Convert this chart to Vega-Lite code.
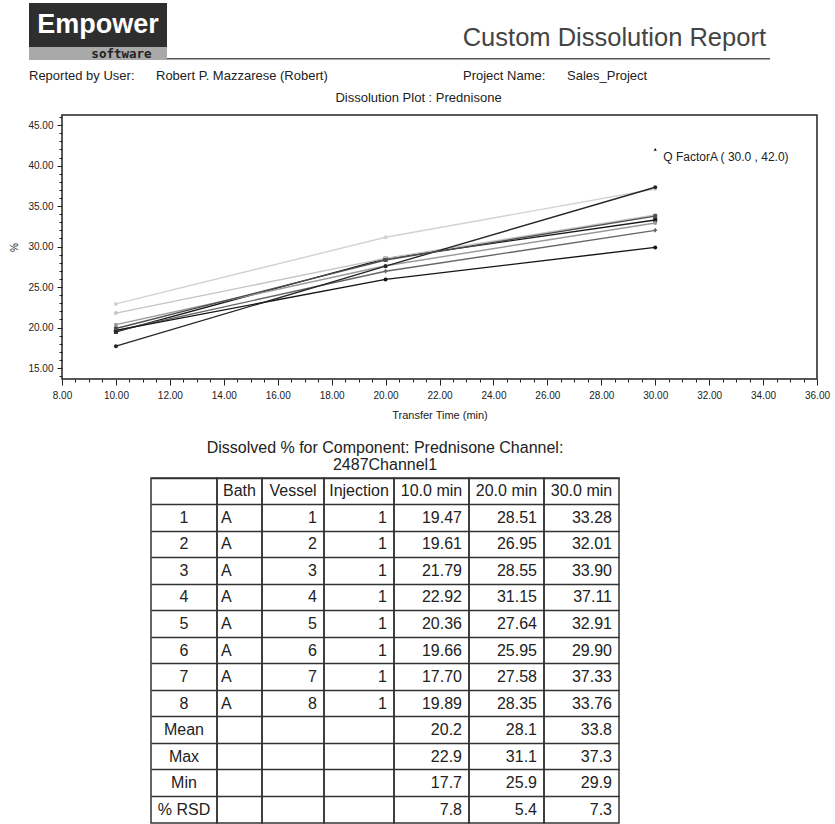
{
  "$schema": "https://vega.github.io/schema/vega-lite/v6.json",
  "padding": 0,
  "background": "white",
  "spacing": 0,
  "bounds": "flush",
  "config": {
    "font": "Liberation Sans",
    "view": {"stroke": null},
    "text": {"color": "#222"},
    "concat": {"spacing": 0}
  },
  "datasets": {
    "dissolution": [
      {"vessel": "1", "time": 10, "pct": 19.47}, {"vessel": "1", "time": 20, "pct": 28.51}, {"vessel": "1", "time": 30, "pct": 33.28},
      {"vessel": "2", "time": 10, "pct": 19.61}, {"vessel": "2", "time": 20, "pct": 26.95}, {"vessel": "2", "time": 30, "pct": 32.01},
      {"vessel": "3", "time": 10, "pct": 21.79}, {"vessel": "3", "time": 20, "pct": 28.55}, {"vessel": "3", "time": 30, "pct": 33.90},
      {"vessel": "4", "time": 10, "pct": 22.92}, {"vessel": "4", "time": 20, "pct": 31.15}, {"vessel": "4", "time": 30, "pct": 37.11},
      {"vessel": "5", "time": 10, "pct": 20.36}, {"vessel": "5", "time": 20, "pct": 27.64}, {"vessel": "5", "time": 30, "pct": 32.91},
      {"vessel": "6", "time": 10, "pct": 19.66}, {"vessel": "6", "time": 20, "pct": 25.95}, {"vessel": "6", "time": 30, "pct": 29.90},
      {"vessel": "7", "time": 10, "pct": 17.70}, {"vessel": "7", "time": 20, "pct": 27.58}, {"vessel": "7", "time": 30, "pct": 37.33},
      {"vessel": "8", "time": 10, "pct": 19.89}, {"vessel": "8", "time": 20, "pct": 28.35}, {"vessel": "8", "time": 30, "pct": 33.76}
    ],
    "qfactor": [
      {"time": 30, "pct": 42, "label": "Q FactorA ( 30.0 , 42.0)"}
    ],
    "table": [
      {"row": "h", "Bath": "Bath", "Vessel": "Vessel", "Injection": "Injection", "t10": "10.0 min", "t20": "20.0 min", "t30": "30.0 min"},
      {"row": "1", "Bath": "A", "Vessel": "1", "Injection": "1", "t10": "19.47", "t20": "28.51", "t30": "33.28"},
      {"row": "2", "Bath": "A", "Vessel": "2", "Injection": "1", "t10": "19.61", "t20": "26.95", "t30": "32.01"},
      {"row": "3", "Bath": "A", "Vessel": "3", "Injection": "1", "t10": "21.79", "t20": "28.55", "t30": "33.90"},
      {"row": "4", "Bath": "A", "Vessel": "4", "Injection": "1", "t10": "22.92", "t20": "31.15", "t30": "37.11"},
      {"row": "5", "Bath": "A", "Vessel": "5", "Injection": "1", "t10": "20.36", "t20": "27.64", "t30": "32.91"},
      {"row": "6", "Bath": "A", "Vessel": "6", "Injection": "1", "t10": "19.66", "t20": "25.95", "t30": "29.90"},
      {"row": "7", "Bath": "A", "Vessel": "7", "Injection": "1", "t10": "17.70", "t20": "27.58", "t30": "37.33"},
      {"row": "8", "Bath": "A", "Vessel": "8", "Injection": "1", "t10": "19.89", "t20": "28.35", "t30": "33.76"},
      {"row": "Mean", "Bath": "", "Vessel": "", "Injection": "", "t10": "20.2", "t20": "28.1", "t30": "33.8"},
      {"row": "Max", "Bath": "", "Vessel": "", "Injection": "", "t10": "22.9", "t20": "31.1", "t30": "37.3"},
      {"row": "Min", "Bath": "", "Vessel": "", "Injection": "", "t10": "17.7", "t20": "25.9", "t30": "29.9"},
      {"row": "% RSD", "Bath": "", "Vessel": "", "Injection": "", "t10": "7.8", "t20": "5.4", "t30": "7.3"}
    ]
  },
  "vconcat": [
    {"width": 835, "height": 3, "data": {"values": []}, "mark": "text", "encoding": {}},
    {
      "hconcat": [
        {"width": 29, "height": 57, "data": {"values": []}, "mark": "text", "encoding": {}},
        {
          "vconcat": [
            {"width": 138, "height": 44, "view": {"fill": "#2e2e2e", "stroke": null},
             "data": {"values": [{"item": "Empower"}]},
             "mark": {"type": "text", "fontSize": 27, "fontWeight": "bold", "color": "white", "baseline": "middle"},
             "encoding": {"text": {"field": "item"}}},
            {"width": 138, "height": 13, "view": {"fill": "#a9a9a9", "stroke": null},
             "data": {"values": [{"item": "software"}]},
             "mark": {"type": "text", "fontSize": 12.5, "fontWeight": "bold", "color": "#222", "baseline": "middle", "font": "DejaVu Sans Mono"},
             "encoding": {
               "x": {"field": "item", "type": "nominal", "scale": {"type": "band", "paddingInner": 0, "paddingOuter": 0}, "axis": null, "bandPosition": 0.67},
               "text": {"field": "item"}}}
          ],
          "spacing": 0, "bounds": "flush"
        },
        {"width": 138, "height": 57, "data": {"values": []}, "mark": "text", "encoding": {}},
        {
          "width": 603, "height": 57,
          "data": {"values": [{"item": "Custom Dissolution Report"}]},
          "layer": [
            {"mark": {"type": "text", "align": "right", "baseline": "middle", "fontSize": 25.5, "color": "#444", "dx": -4},
             "encoding": {
               "x": {"field": "item", "type": "nominal", "scale": {"type": "band", "paddingInner": 0, "paddingOuter": 0}, "axis": null, "bandPosition": 1},
               "y": {"field": "item", "type": "nominal", "scale": {"type": "band", "paddingInner": 0, "paddingOuter": 0}, "axis": null, "bandPosition": 0.61},
               "text": {"field": "item"}}},
            {"mark": {"type": "rule", "color": "#555", "strokeWidth": 1.5},
             "encoding": {
               "y": {"field": "item", "type": "nominal", "scale": {"type": "band", "paddingInner": 0, "paddingOuter": 0}, "axis": null, "bandPosition": 0.98}}}
          ]
        }
      ],
      "spacing": 0, "bounds": "flush"
    },
    {"width": 835, "height": 57, "data": {"values": []}, "mark": "text", "encoding": {}},
    {
      "hconcat": [
        {"width": 29, "height": 32, "data": {"values": []}, "mark": "text", "encoding": {}},
        {"width": 127, "height": 32, "data": {"values": [{"item": "Reported by User:"}]},
         "mark": {"type": "text", "align": "left", "baseline": "middle", "fontSize": 13},
         "encoding": {"x": {"field": "item", "type": "nominal", "scale": {"type": "band", "paddingInner": 0, "paddingOuter": 0}, "axis": null, "bandPosition": 0}, "text": {"field": "item"}}},
        {"width": 307, "height": 32, "data": {"values": [{"item": "Robert P. Mazzarese (Robert)"}]},
         "mark": {"type": "text", "align": "left", "baseline": "middle", "fontSize": 13},
         "encoding": {"x": {"field": "item", "type": "nominal", "scale": {"type": "band", "paddingInner": 0, "paddingOuter": 0}, "axis": null, "bandPosition": 0}, "text": {"field": "item"}}},
        {"width": 104, "height": 32, "data": {"values": [{"item": "Project Name:"}]},
         "mark": {"type": "text", "align": "left", "baseline": "middle", "fontSize": 13},
         "encoding": {"x": {"field": "item", "type": "nominal", "scale": {"type": "band", "paddingInner": 0, "paddingOuter": 0}, "axis": null, "bandPosition": 0}, "text": {"field": "item"}}},
        {"width": 268, "height": 32, "data": {"values": [{"item": "Sales_Project"}]},
         "mark": {"type": "text", "align": "left", "baseline": "middle", "fontSize": 13},
         "encoding": {"x": {"field": "item", "type": "nominal", "scale": {"type": "band", "paddingInner": 0, "paddingOuter": 0}, "axis": null, "bandPosition": 0}, "text": {"field": "item"}}}
      ],
      "spacing": 0, "bounds": "flush"
    },
    {"width": 835, "height": 55, "data": {"values": []}, "mark": "text", "encoding": {}},
    {
      "hconcat": [
        {"width": 62, "height": 264, "data": {"values": []}, "mark": "text", "encoding": {}},
        {
          "width": 755, "height": 264,
          "view": {"stroke": "#222", "strokeWidth": 1.5},
          "title": {"text": "Dissolution Plot : Prednisone", "fontSize": 13, "fontWeight": "normal", "color": "#222", "anchor": "middle", "dx": -21, "offset": 7},
          "encoding": {
            "x": {"field": "time", "type": "quantitative",
                  "scale": {"domain": [8, 36], "nice": false, "zero": false},
                  "axis": {
                    "values": [8,8.5,9,9.5,10,10.5,11,11.5,12,12.5,13,13.5,14,14.5,15,15.5,16,16.5,17,17.5,18,18.5,19,19.5,20,20.5,21,21.5,22,22.5,23,23.5,24,24.5,25,25.5,26,26.5,27,27.5,28,28.5,29,29.5,30,30.5,31,31.5,32,32.5,33,33.5,34,34.5,35,35.5,36],
                    "labelExpr": "datum.value % 2 === 0 ? format(datum.value, '.2f') : ''",
                    "tickSize": {"condition": {"test": "datum.value % 2 === 0", "value": 6}, "value": 3},
                    "tickColor": "#222",
                    "labelFontSize": 10, "labelColor": "#222", "labelPadding": 5,
                    "labelOverlap": false, "labelFlush": false,
                    "domain": false, "grid": false,
                    "title": "Transfer Time (min)", "titleFontSize": 11, "titleFontWeight": "normal", "titleColor": "#222", "titlePadding": 9
                  }},
            "y": {"field": "pct", "type": "quantitative",
                  "scale": {"domain": [13.65, 46.25], "nice": false, "zero": false},
                  "axis": {
                    "values": [14,15,16,17,18,19,20,21,22,23,24,25,26,27,28,29,30,31,32,33,34,35,36,37,38,39,40,41,42,43,44,45,46],
                    "labelExpr": "datum.value % 5 === 0 ? format(datum.value, '.2f') : ''",
                    "tickSize": {"condition": {"test": "datum.value % 5 === 0", "value": 5}, "value": 3},
                    "tickColor": "#222",
                    "labelFontSize": 10, "labelColor": "#222", "labelPadding": 4,
                    "labelOverlap": false, "labelFlush": false,
                    "domain": false, "grid": false,
                    "title": "%", "titleFontSize": 10, "titleFontWeight": "normal", "titleColor": "#222", "titlePadding": 8
                  }}
          },
          "layer": [
            {"data": {"name": "dissolution"},
             "mark": {"type": "line", "strokeWidth": 1.4},
             "encoding": {
               "color": {"field": "vessel", "type": "nominal",
                         "scale": {"domain": ["1","2","3","4","5","6","7","8"], "range": ["#1a1a1a","#666666","#c4c4c4","#d2d2d2","#999999","#151515","#262626","#4d4d4d"]},
                         "legend": null}}},
            {"data": {"name": "dissolution"},
             "mark": {"type": "point", "filled": true, "size": 16, "opacity": 1},
             "encoding": {
               "color": {"field": "vessel", "type": "nominal",
                         "scale": {"domain": ["1","2","3","4","5","6","7","8"], "range": ["#1a1a1a","#666666","#c4c4c4","#d2d2d2","#999999","#151515","#262626","#4d4d4d"]},
                         "legend": null},
               "shape": {"field": "vessel", "type": "nominal",
                         "scale": {"domain": ["1","2","3","4","5","6","7","8"], "range": ["square","cross","circle","circle","circle","circle","circle","square"]},
                         "legend": null}}},
            {"data": {"name": "qfactor"},
             "mark": {"type": "point", "filled": true, "size": 10, "color": "#111", "shape": "triangle-up", "opacity": 1}},
            {"data": {"name": "qfactor"},
             "mark": {"type": "text", "align": "left", "baseline": "middle", "dx": 8, "dy": 8, "fontSize": 12, "color": "#222"},
             "encoding": {"text": {"field": "label"}}}
          ]
        }
      ],
      "spacing": 0, "bounds": "flush"
    },
    {"width": 835, "height": 363, "data": {"values": []}, "mark": "text", "encoding": {}},
    {
      "hconcat": [
        {"width": 151, "height": 345, "data": {"values": []}, "mark": "text", "encoding": {}},
        {
          "title": {"text": ["Dissolved % for Component: Prednisone Channel:", "2487Channel1"], "fontSize": 16, "fontWeight": "normal", "color": "#222", "anchor": "middle", "offset": 4, "lineHeight": 17},
          "hconcat": [
            {"width": 66, "height": 345, "view": {"stroke": "#333", "strokeWidth": 1.5},
             "data": {"name": "table"},
             "encoding": {"y": {"field": "row", "type": "nominal", "scale": {"type": "band", "domain": ["h","1","2","3","4","5","6","7","8","Mean","Max","Min","% RSD"], "paddingInner": 0, "paddingOuter": 0}, "axis": {"labels": false, "ticks": false, "domain": false, "title": null, "grid": true, "gridColor": "#333", "gridWidth": 1.5, "bandPosition": 0}}},
             "layer": [
               {"transform": [{"filter": "datum.row !== 'h'"}],
                "mark": {"type": "text", "fontSize": 16, "baseline": "middle"},
                "encoding": {"text": {"field": "row"}}}
             ]},
            {"width": 45, "height": 345, "view": {"stroke": "#333", "strokeWidth": 1.5},
             "data": {"name": "table"},
             "transform": [{"fold": ["Bath"], "as": ["col", "val"]}],
             "encoding": {"y": {"field": "row", "type": "nominal", "scale": {"type": "band", "domain": ["h","1","2","3","4","5","6","7","8","Mean","Max","Min","% RSD"], "paddingInner": 0, "paddingOuter": 0}, "axis": {"labels": false, "ticks": false, "domain": false, "title": null, "grid": true, "gridColor": "#333", "gridWidth": 1.5, "bandPosition": 0}}},
             "layer": [
               {"transform": [{"filter": "datum.row === 'h'"}],
                "mark": {"type": "text", "fontSize": 16, "baseline": "middle"},
                "encoding": {"x": {"field": "col", "type": "nominal", "scale": {"type": "band", "paddingInner": 0, "paddingOuter": 0}, "axis": null, "bandPosition": 0.5}, "text": {"field": "val"}}},
               {"transform": [{"filter": "datum.row !== 'h'"}],
                "mark": {"type": "text", "fontSize": 16, "baseline": "middle", "align": "left", "dx": 4},
                "encoding": {"x": {"field": "col", "type": "nominal", "scale": {"type": "band", "paddingInner": 0, "paddingOuter": 0}, "axis": null, "bandPosition": 0}, "text": {"field": "val"}}}
             ]},
            {"width": 62, "height": 345, "view": {"stroke": "#333", "strokeWidth": 1.5},
             "data": {"name": "table"},
             "transform": [{"fold": ["Vessel"], "as": ["col", "val"]}],
             "encoding": {"y": {"field": "row", "type": "nominal", "scale": {"type": "band", "domain": ["h","1","2","3","4","5","6","7","8","Mean","Max","Min","% RSD"], "paddingInner": 0, "paddingOuter": 0}, "axis": {"labels": false, "ticks": false, "domain": false, "title": null, "grid": true, "gridColor": "#333", "gridWidth": 1.5, "bandPosition": 0}}},
             "layer": [
               {"transform": [{"filter": "datum.row === 'h'"}],
                "mark": {"type": "text", "fontSize": 16, "baseline": "middle"},
                "encoding": {"x": {"field": "col", "type": "nominal", "scale": {"type": "band", "paddingInner": 0, "paddingOuter": 0}, "axis": null, "bandPosition": 0.5}, "text": {"field": "val"}}},
               {"transform": [{"filter": "datum.row !== 'h'"}],
                "mark": {"type": "text", "fontSize": 16, "baseline": "middle", "align": "right", "dx": -7},
                "encoding": {"x": {"field": "col", "type": "nominal", "scale": {"type": "band", "paddingInner": 0, "paddingOuter": 0}, "axis": null, "bandPosition": 1}, "text": {"field": "val"}}}
             ]},
            {"width": 70, "height": 345, "view": {"stroke": "#333", "strokeWidth": 1.5},
             "data": {"name": "table"},
             "transform": [{"fold": ["Injection"], "as": ["col", "val"]}],
             "encoding": {"y": {"field": "row", "type": "nominal", "scale": {"type": "band", "domain": ["h","1","2","3","4","5","6","7","8","Mean","Max","Min","% RSD"], "paddingInner": 0, "paddingOuter": 0}, "axis": {"labels": false, "ticks": false, "domain": false, "title": null, "grid": true, "gridColor": "#333", "gridWidth": 1.5, "bandPosition": 0}}},
             "layer": [
               {"transform": [{"filter": "datum.row === 'h'"}],
                "mark": {"type": "text", "fontSize": 16, "baseline": "middle"},
                "encoding": {"x": {"field": "col", "type": "nominal", "scale": {"type": "band", "paddingInner": 0, "paddingOuter": 0}, "axis": null, "bandPosition": 0.5}, "text": {"field": "val"}}},
               {"transform": [{"filter": "datum.row !== 'h'"}],
                "mark": {"type": "text", "fontSize": 16, "baseline": "middle", "align": "right", "dx": -7},
                "encoding": {"x": {"field": "col", "type": "nominal", "scale": {"type": "band", "paddingInner": 0, "paddingOuter": 0}, "axis": null, "bandPosition": 1}, "text": {"field": "val"}}}
             ]},
            {"width": 75, "height": 345, "view": {"stroke": "#333", "strokeWidth": 1.5},
             "data": {"name": "table"},
             "transform": [{"fold": ["t10"], "as": ["col", "val"]}],
             "encoding": {"y": {"field": "row", "type": "nominal", "scale": {"type": "band", "domain": ["h","1","2","3","4","5","6","7","8","Mean","Max","Min","% RSD"], "paddingInner": 0, "paddingOuter": 0}, "axis": {"labels": false, "ticks": false, "domain": false, "title": null, "grid": true, "gridColor": "#333", "gridWidth": 1.5, "bandPosition": 0}}},
             "layer": [
               {"transform": [{"filter": "datum.row === 'h'"}],
                "mark": {"type": "text", "fontSize": 16, "baseline": "middle"},
                "encoding": {"x": {"field": "col", "type": "nominal", "scale": {"type": "band", "paddingInner": 0, "paddingOuter": 0}, "axis": null, "bandPosition": 0.5}, "text": {"field": "val"}}},
               {"transform": [{"filter": "datum.row !== 'h'"}],
                "mark": {"type": "text", "fontSize": 16, "baseline": "middle", "align": "right", "dx": -7},
                "encoding": {"x": {"field": "col", "type": "nominal", "scale": {"type": "band", "paddingInner": 0, "paddingOuter": 0}, "axis": null, "bandPosition": 1}, "text": {"field": "val"}}}
             ]},
            {"width": 75, "height": 345, "view": {"stroke": "#333", "strokeWidth": 1.5},
             "data": {"name": "table"},
             "transform": [{"fold": ["t20"], "as": ["col", "val"]}],
             "encoding": {"y": {"field": "row", "type": "nominal", "scale": {"type": "band", "domain": ["h","1","2","3","4","5","6","7","8","Mean","Max","Min","% RSD"], "paddingInner": 0, "paddingOuter": 0}, "axis": {"labels": false, "ticks": false, "domain": false, "title": null, "grid": true, "gridColor": "#333", "gridWidth": 1.5, "bandPosition": 0}}},
             "layer": [
               {"transform": [{"filter": "datum.row === 'h'"}],
                "mark": {"type": "text", "fontSize": 16, "baseline": "middle"},
                "encoding": {"x": {"field": "col", "type": "nominal", "scale": {"type": "band", "paddingInner": 0, "paddingOuter": 0}, "axis": null, "bandPosition": 0.5}, "text": {"field": "val"}}},
               {"transform": [{"filter": "datum.row !== 'h'"}],
                "mark": {"type": "text", "fontSize": 16, "baseline": "middle", "align": "right", "dx": -7},
                "encoding": {"x": {"field": "col", "type": "nominal", "scale": {"type": "band", "paddingInner": 0, "paddingOuter": 0}, "axis": null, "bandPosition": 1}, "text": {"field": "val"}}}
             ]},
            {"width": 75, "height": 345, "view": {"stroke": "#333", "strokeWidth": 1.5},
             "data": {"name": "table"},
             "transform": [{"fold": ["t30"], "as": ["col", "val"]}],
             "encoding": {"y": {"field": "row", "type": "nominal", "scale": {"type": "band", "domain": ["h","1","2","3","4","5","6","7","8","Mean","Max","Min","% RSD"], "paddingInner": 0, "paddingOuter": 0}, "axis": {"labels": false, "ticks": false, "domain": false, "title": null, "grid": true, "gridColor": "#333", "gridWidth": 1.5, "bandPosition": 0}}},
             "layer": [
               {"transform": [{"filter": "datum.row === 'h'"}],
                "mark": {"type": "text", "fontSize": 16, "baseline": "middle"},
                "encoding": {"x": {"field": "col", "type": "nominal", "scale": {"type": "band", "paddingInner": 0, "paddingOuter": 0}, "axis": null, "bandPosition": 0.5}, "text": {"field": "val"}}},
               {"transform": [{"filter": "datum.row !== 'h'"}],
                "mark": {"type": "text", "fontSize": 16, "baseline": "middle", "align": "right", "dx": -7},
                "encoding": {"x": {"field": "col", "type": "nominal", "scale": {"type": "band", "paddingInner": 0, "paddingOuter": 0}, "axis": null, "bandPosition": 1}, "text": {"field": "val"}}}
             ]}
          ],
          "spacing": 0, "bounds": "flush"
        }
      ],
      "spacing": 0, "bounds": "flush"
    }
  ]
}
